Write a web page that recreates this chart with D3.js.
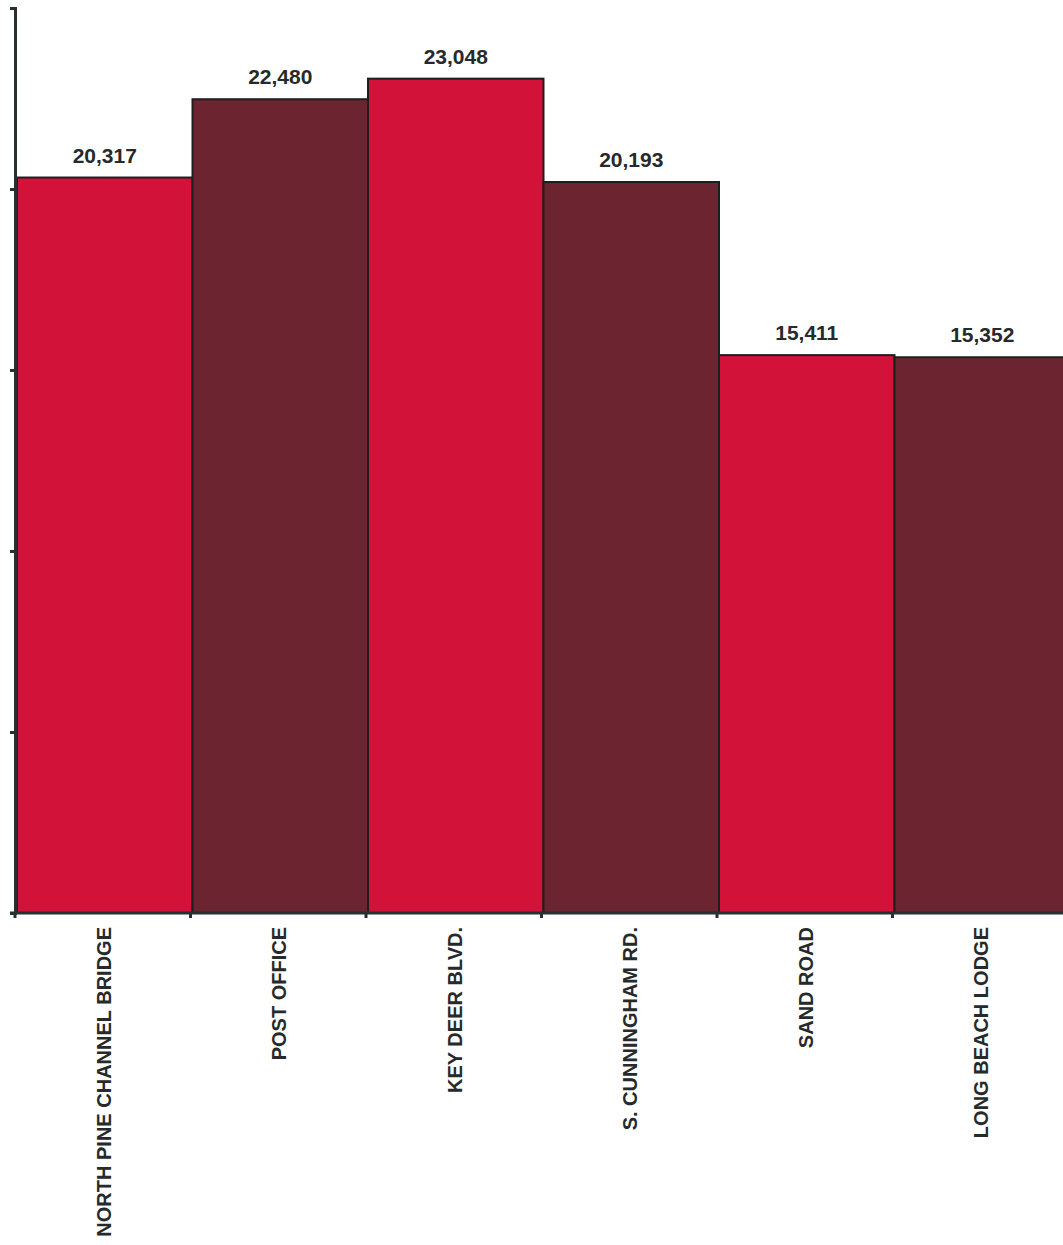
<!DOCTYPE html>
<html>
<head>
<meta charset="utf-8">
<script src="https://cdn.jsdelivr.net/npm/d3@7"></script>
<style>
  html, body { margin: 0; padding: 0; background: #fff; }
  svg { display: block; }
  text { font-family: "Liberation Sans", Arial, sans-serif; font-weight: bold; fill: #262a2a; }
</style>
</head>
<body>
<svg id="chart" width="1063" height="1245"></svg>
<script>
// Traffic counts by location
const categories = ["NORTH PINE CHANNEL BRIDGE", "POST OFFICE", "KEY DEER BLVD.", "S. CUNNINGHAM RD.", "SAND ROAD", "LONG BEACH LODGE"];
const values = [20317, 22480, 23048, 20193, 15411, 15352];
const yTicks = [0, 5000, 10000, 15000, 20000, 25000];
const barColors = ["#d3123a", "#6c2430"];

const svg = d3.select("#chart");
const x0 = 15, yBase = 913;

const x = d3.scaleBand().domain(categories).range([17, 1070]).padding(0);
const y = d3.scaleLinear().domain([0, 25000]).range([yBase, 8]);

// Bars
svg.append("g").selectAll("rect")
  .data(categories)
  .join("rect")
  .attr("x", d => x(d))
  .attr("y", (d, i) => y(values[i]))
  .attr("width", x.bandwidth())
  .attr("height", (d, i) => yBase - y(values[i]))
  .attr("fill", (d, i) => barColors[i % 2])
  .attr("stroke", "#1e1e1e")
  .attr("stroke-width", 2);

// Value labels
const fmt = d3.format(",");
svg.append("g").selectAll("text")
  .data(categories)
  .join("text")
  .attr("x", d => x(d) + x.bandwidth() / 2)
  .attr("y", (d, i) => y(values[i]) - 15)
  .attr("text-anchor", "middle")
  .attr("font-size", 21)
  .text((d, i) => fmt(values[i]));

// Y axis (ticks only)
const yAxis = svg.append("g")
  .attr("transform", `translate(${x0},0)`)
  .call(d3.axisLeft(y).tickValues(yTicks).tickSize(5).tickFormat(""));
yAxis.select(".domain").attr("stroke", "#263030").attr("stroke-width", 3);
yAxis.selectAll(".tick line").attr("stroke", "#263030").attr("stroke-width", 3);

// X axis baseline with ticks at bar boundaries
const bounds = categories.map(d => x(d) - 2);
svg.append("line")
  .attr("x1", 10).attr("x2", 1063)
  .attr("y1", yBase).attr("y2", yBase)
  .attr("stroke", "#263030").attr("stroke-width", 3);
svg.append("g").selectAll("line")
  .data(bounds)
  .join("line")
  .attr("x1", d => d).attr("x2", d => d)
  .attr("y1", yBase).attr("y2", yBase + 5)
  .attr("stroke", "#263030").attr("stroke-width", 3);

// Category labels, rotated
svg.append("g").selectAll("text")
  .data(categories)
  .join("text")
  .attr("transform", d => `translate(${x(d) + x.bandwidth() / 2 - 1},927) rotate(-90)`)
  .attr("text-anchor", "end")
  .attr("dy", "0.35em")
  .attr("font-size", 20)
  .text(d => d);
</script>
</body>
</html>
